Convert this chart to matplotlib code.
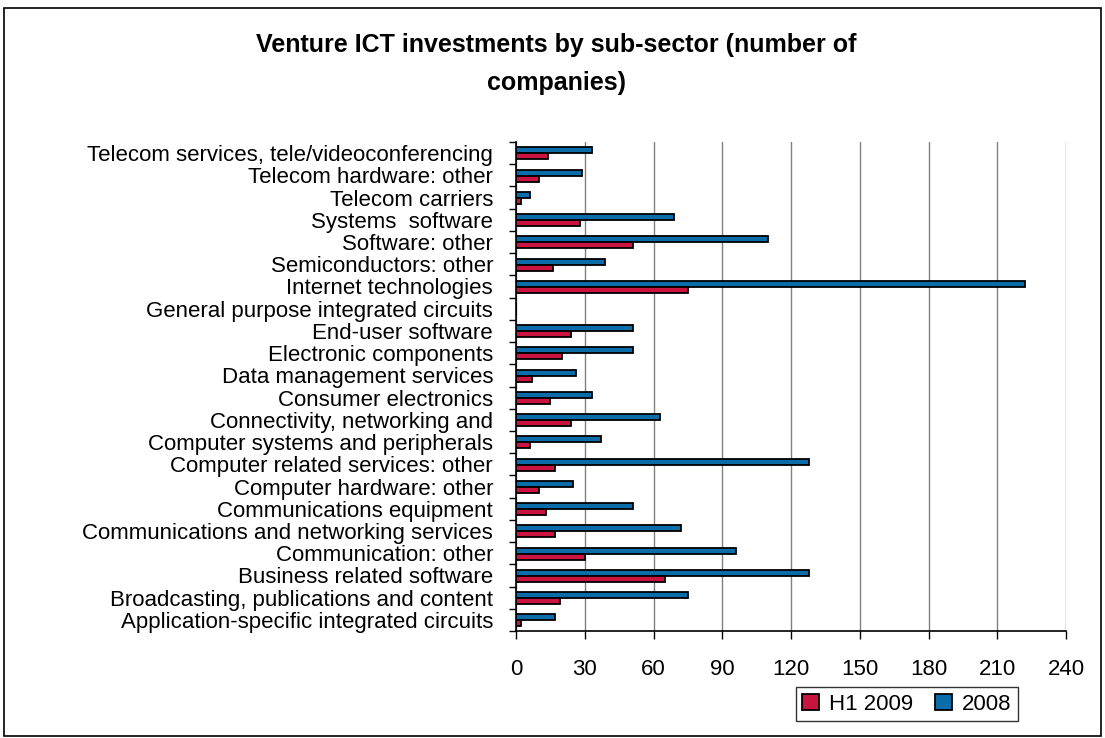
import matplotlib
matplotlib.use("Agg")
from matplotlib import pyplot as plt
from matplotlib.patches import Rectangle
import numpy as np

plt.rcParams['font.family'] = ['Liberation Sans', 'DejaVu Sans']

# categories listed top to bottom as shown
categories = [
    'Telecom services, tele/videoconferencing',
    'Telecom hardware: other',
    'Telecom carriers',
    'Systems  software',
    'Software: other',
    'Semiconductors: other',
    'Internet technologies',
    'General purpose integrated circuits',
    'End-user software',
    'Electronic components',
    'Data management services',
    'Consumer electronics',
    'Connectivity, networking and',
    'Computer systems and peripherals',
    'Computer related services: other',
    'Computer hardware: other',
    'Communications equipment',
    'Communications and networking services',
    'Communication: other',
    'Business related software',
    'Broadcasting, publications and content',
    'Application-specific integrated circuits',
]
h1_2009 = [14, 10, 2, 28, 51, 16, 75, 0, 24, 20, 7, 15, 24, 6, 17, 10, 13, 17, 30, 65, 19, 2]
y2008 = [33, 29, 6, 69, 110, 39, 222, 0, 51, 51, 26, 33, 63, 37, 128, 25, 51, 72, 96, 128, 75, 17]
x_ticks = [0, 30, 60, 90, 120, 150, 180, 210, 240]

red = '#C8143F'
blue = '#0A6DAA'

fig = plt.figure(figsize=(11.05, 7.38), dpi=100)
fig.patches.append(Rectangle((0.004, 0.003), 0.992, 0.986, transform=fig.transFigure,
                             fill=False, edgecolor='black', linewidth=1.2))

ax = fig.add_axes([516 / 1105, 1 - 631 / 738, (1066 - 516) / 1105, (631 - 142) / 738])
y = np.arange(len(categories))
bh = 0.27
ax.barh(y - 0.12, y2008, height=bh, color=blue, edgecolor='black', linewidth=1.3, label='2008', zorder=3)
ax.barh(y + 0.15, h1_2009, height=bh, color=red, edgecolor='black', linewidth=1.3, label='H1 2009', zorder=3)

ax.set_ylim(len(categories) - 0.5, -0.5)
ax.set_xlim(0, 240)
ax.set_xticks(x_ticks)
ax.set_xticklabels([str(t) for t in x_ticks], fontsize=16)
ax.tick_params(axis='x', length=6, width=1, pad=14, direction='out')

ax.set_yticks(y)
ax.set_yticklabels(categories, fontsize=16)
ax.tick_params(axis='y', length=0, pad=16.5)
ax.set_yticks(np.arange(len(categories) + 1) - 0.5, minor=True)
ax.tick_params(axis='y', which='minor', length=5, width=1)

ax.xaxis.grid(True, color='#808080', linewidth=1, zorder=0)
for s in ['top', 'right']:
    ax.spines[s].set_visible(False)
for s in ['left', 'bottom']:
    ax.spines[s].set_linewidth(1.2)

fig.text(556 / 1105, 1 - 45 / 738, 'Venture ICT investments by sub-sector (number of',
         ha='center', va='center', fontsize=18, fontweight='bold')
fig.text(556 / 1105, 1 - 83 / 738, 'companies)',
         ha='center', va='center', fontsize=18, fontweight='bold')

handles, labels = ax.get_legend_handles_labels()
leg = fig.legend(handles[::-1], labels[::-1], loc='center', bbox_to_anchor=(907 / 1105, 1 - 704 / 738),
                 ncol=2, fontsize=16, frameon=True, fancybox=False, edgecolor='black',
                 handlelength=0.75, handleheight=0.75, handletextpad=0.45, columnspacing=1.0,
                 borderpad=0.3)
leg.get_frame().set_linewidth(1)

fig.savefig('out.png', dpi=100)
